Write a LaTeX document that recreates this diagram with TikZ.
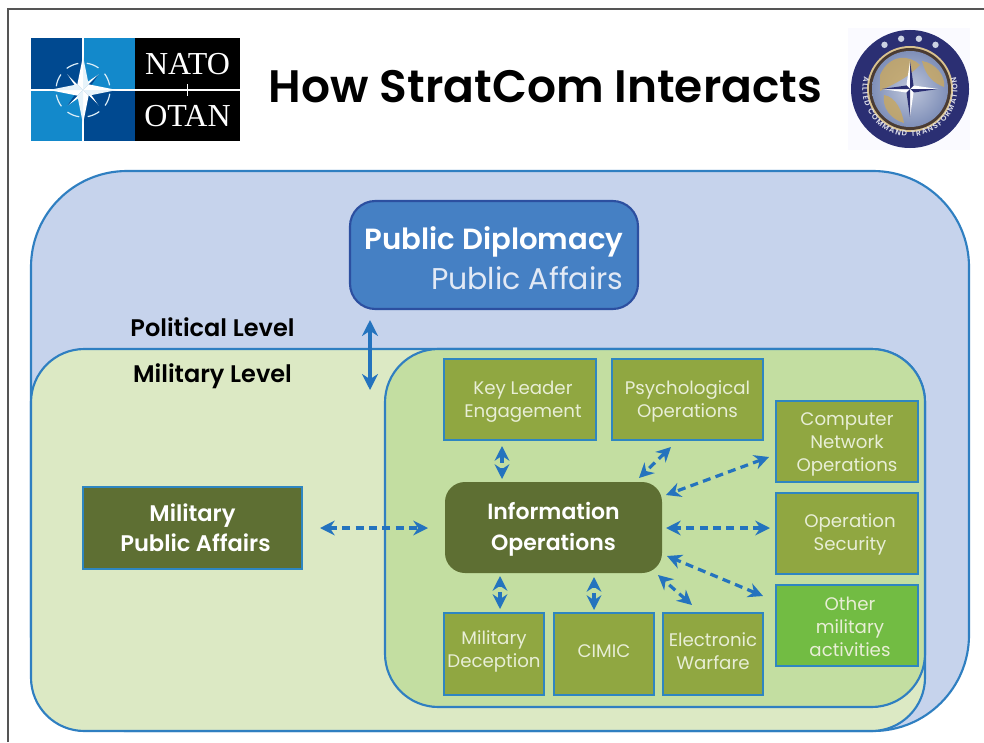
\documentclass[tikz,border=0pt]{standalone}
\usepackage{fontspec}
\setmainfont{Poppins}[BoldFont={Poppins SemiBold}]
\newfontfamily\logofont{Liberation Serif}
\usetikzlibrary{calc,arrows.meta,decorations.text}
\definecolor{framec}{HTML}{555555}
\definecolor{regionblue}{HTML}{C6D3EC}
\definecolor{regionline}{HTML}{2F7FC1}
\definecolor{regiongreen}{HTML}{DCE9C4}
\definecolor{innergreen}{HTML}{C3DEA1}
\definecolor{boxolive}{HTML}{90A741}
\definecolor{boxdark}{HTML}{5E6F33}
\definecolor{boxbright}{HTML}{72BC43}
\definecolor{boxline}{HTML}{2E86C1}
\definecolor{boxtext}{HTML}{E8EED6}
\definecolor{arrowblue}{HTML}{2473BE}
\definecolor{pdfill}{HTML}{4580C4}
\definecolor{pdline}{HTML}{2C4FA0}
\definecolor{pdtext}{HTML}{E2E9F5}
\definecolor{natodark}{HTML}{004990}
\definecolor{natolight}{HTML}{1389CB}
\definecolor{sealnavy}{HTML}{2B2F73}
\definecolor{sealgold}{HTML}{C9A860}
\definecolor{sealbrown}{HTML}{4A3B33}
\definecolor{sealsea}{HTML}{7F8FB8}
\newcommand{\fpx}[2]{\fontsize{\fpeval{#1*0.75}pt}{\fpeval{#2*0.75}pt}\selectfont}
\newcommand{\dn}[1]{\rule{0pt}{\fpeval{#1*0.75}pt}}
\newcommand{\ups}[1]{\rule[\fpeval{-#1*0.75}pt]{0pt}{0pt}}
\newcommand{\sh}{\hspace*{4.5pt}}
\tikzset{
  wh/.style 2 args={minimum width=#1*0.75pt,minimum height=#2*0.75pt},
  opbox/.style={draw=boxline,line width=2pt,fill=boxolive,text=boxtext,align=center,inner sep=0pt,outer sep=0pt,font=\fpx{18.2}{23}},
  darkbox/.style={fill=boxdark,text=white,align=center,inner sep=0pt,outer sep=0pt,font=\fpx{22}{31}\bfseries},
  levellabel/.style={text=black,inner sep=0pt,font=\fpx{24}{24}\bfseries},
  dashconn/.style={draw=arrowblue,line width=2.4pt,dash pattern=on 6pt off 4pt,{Stealth[length=11pt,width=11pt,fill=arrowblue]}-{Stealth[length=11pt,width=11pt,fill=arrowblue]}},
  solidconn/.style={draw=arrowblue,line width=2.4pt,{Stealth[length=12pt,width=12pt]}-{Stealth[length=12pt,width=12pt]}},
  logotext/.style={text=white,inner sep=0pt,font=\logofont\fpx{32}{36}}
}
\begin{document}
\begin{tikzpicture}[x=0.75pt,y=-0.75pt]
\useasboundingbox (0,0) rectangle (984,742);
\clip (0,0) rectangle (984,742);
\fill[white] (0,0) rectangle (984,742);
% page frame
\draw[framec,line width=1.2pt] (8,742) -- (8,9) -- (984,9);
% NATO logo
\fill[natodark] (31,38) rectangle (83,90);
\fill[natolight] (83,38) rectangle (135,90);
\fill[natolight] (31,90) rectangle (83,141);
\fill[natodark] (83,90) rectangle (135,141);
\fill[black] (135,38) rectangle (240,141);
\draw[white,line width=0.8pt] (31,90) -- (240,90);
\draw[white,line width=0.8pt] (83,38) -- (83,141);
\draw[white,line width=0.7pt] (187.5,84) -- (187.5,96);
\begin{scope}[shift={(83,90)},y=0.75pt]
  \foreach \a in {10,55,100,145,190,235,280,325}{
    \draw[white!85!natolight,line width=0.9pt] (\a:27) arc (\a:\a+27:27);
  }
  \foreach \a in {0,90,180,270}{
    \fill[white] (\a+45:22) -- (\a+90:5) -- (0,0) -- cycle;
    \fill[natodark] (\a+45:22) -- (\a:5) -- (0,0) -- cycle;
  }
  \foreach \a in {0,90,180,270}{
    \fill[white] (\a:34) -- (\a+45:8) -- (0,0) -- cycle;
    \fill[white!90!natolight] (\a:34) -- (\a-45:8) -- (0,0) -- cycle;
  }
\end{scope}
\node[logotext] (natoword) at (187.5,64) {NATO};
\node[logotext] (otanword) at (187.5,116) {OTAN};
% title
\node[inner sep=0pt,text=black,font=\fpx{45.5}{50}\bfseries] (title) at (545.5,87) {How StratCom Interacts};
% seal
\fill[blue!2!white] (848,28) rectangle (970,150);
\begin{scope}[shift={(910,89)},y=0.75pt]
  \fill[sealnavy] (0,0) circle (59);
  \fill[sealgold!70!white] (0,0) circle (43);
  \fill[sealbrown] (0,0) circle (41);
  \shade[inner color=sealsea!50!white,outer color=sealsea] (0,0) circle (38);
  \fill[sealgold,opacity=.8] (-30,14) .. controls (-20,36) and (0,34) .. (10,24) .. controls (-2,12) and (-10,8) .. (-30,-2) -- cycle;
  \fill[sealgold,opacity=.8] (-26,-6) .. controls (-14,-8) and (-8,-22) .. (-6,-34) .. controls (-20,-30) and (-28,-18) .. cycle;
  \fill[sealgold,opacity=.8] (12,28) .. controls (26,26) and (36,12) .. (34,2) .. controls (24,6) and (16,12) .. cycle;
  \foreach \a in {0,90,180,270}{
    \fill[white] (\a:28) -- (\a+45:5) -- (0,0) -- cycle;
    \fill[sealnavy] (\a:28) -- (\a-45:5) -- (0,0) -- cycle;
  }
  \foreach \a in {60,80,100,120}{
    \fill[sealsea!40!white] (\a:51) circle (3.2);
  }
  \path[decorate,decoration={text along path,text align={fit to path},text color=white!85!sealnavy,
    text={|\fpx{7.5}{9}\bfseries|ALLIED COMMAND TRANSFORMATION}}]
    (165:47.5) arc (165:375:47.5);
\end{scope}
% regions
\fill[regionblue,draw=regionline,line width=1.6pt,rounded corners=72pt] (31,731) rectangle (969,171);
\fill[regiongreen,draw=regionline,line width=1.6pt,rounded corners=40pt] (31,731) rectangle (925,349);
\fill[innergreen,draw=regionline,line width=1.6pt,rounded corners=40pt] (385,707) rectangle (925,349);
% level labels
\node[levellabel] (polit) at (212.5,327) {Political Level};
\node[levellabel] (milit) at (212.5,376) {Military Level};
% top box
\node[draw=pdline,line width=1.6pt,fill=pdfill,rounded corners=19pt,inner sep=0pt,outer sep=0pt,wh={288}{108},align=right,font=\fpx{30}{40}] (pd) at (494,255)
  {\dn{30}{\fpx{29.2}{40}\bfseries\color{white}Public Diplomacy}\\{\color{pdtext}Public Affairs}};
% operations boxes
\node[opbox,wh={152}{81}] (kle) at (520,399.5) {\dn{17.5}\sh Key Leader\\\sh Engagement};
\node[opbox,wh={151}{81}] (psy) at (687.5,399.5) {\dn{18}Psychological\\Operations};
\node[opbox,wh={142}{81}] (cno) at (847,441.5) {\dn{19}Computer\\Network\\Operations};
\node[opbox,wh={142}{81}] (opsec) at (847,533.5) {\dn{16}\sh Operation\\\sh Security};
\node[opbox,wh={142}{81},fill=boxbright] (other) at (847,625.5) {\dn{16}\sh Other\\\sh military\\\sh activities};
\node[opbox,wh={100}{82}] (deception) at (494,654) {Military\\Deception\ups{10}};
\node[opbox,wh={100}{82}] (cimic) at (604,654) {CIMIC\ups{6}};
\node[opbox,wh={100}{82}] (ew) at (713,654) {Electronic\\Warfare\ups{6}};
\node[darkbox,wh={217}{91},rounded corners=15pt] (io) at (553.5,527.5) {\dn{20}Information\\Operations};
\node[darkbox,wh={219}{82},draw=boxline,line width=2pt,font=\fpx{22.6}{30}\bfseries] (mpa) at (192.5,528) {Military\\\sh Public Affairs};
% connectors
\coordinate (freeend) at (370,390);
\draw[solidconn] ($(pd.south)+(-124,11)$) -- (freeend);
\draw[dashconn] ($(mpa.east)+(18,0)$) -- ($(io.west)+(-17,0.5)$);
\draw[dashconn] ($(kle.south)+(-18,6)$) -- ($(io.north)+(-51.5,-3)$);
\draw[dashconn] ($(psy.south)+(-16.5,7)$) -- ($(io.north)+(85.5,-4)$);
\draw[dashconn] ($(cno.west)+(-7,15.5)$) -- ($(io.east)+(4,-32.5)$);
\draw[dashconn] ($(opsec.west)+(-6,-5.5)$) -- ($(io.east)+(4,0.5)$);
\draw[dashconn] ($(other.north west)+(-13,11)$) -- ($(io.east)+(5,28.5)$);
\draw[dashconn] ($(ew.north)+(-21,-8)$) -- ($(io.south east)+(-4,2)$);
\draw[dashconn] ($(deception.north)+(6,-4)$) -- ($(io.south)+(-53.5,3)$);
\draw[dashconn] ($(cimic.north)+(-10,-3)$) -- ($(io.south)+(40.5,4)$);
\end{tikzpicture}
\end{document}
